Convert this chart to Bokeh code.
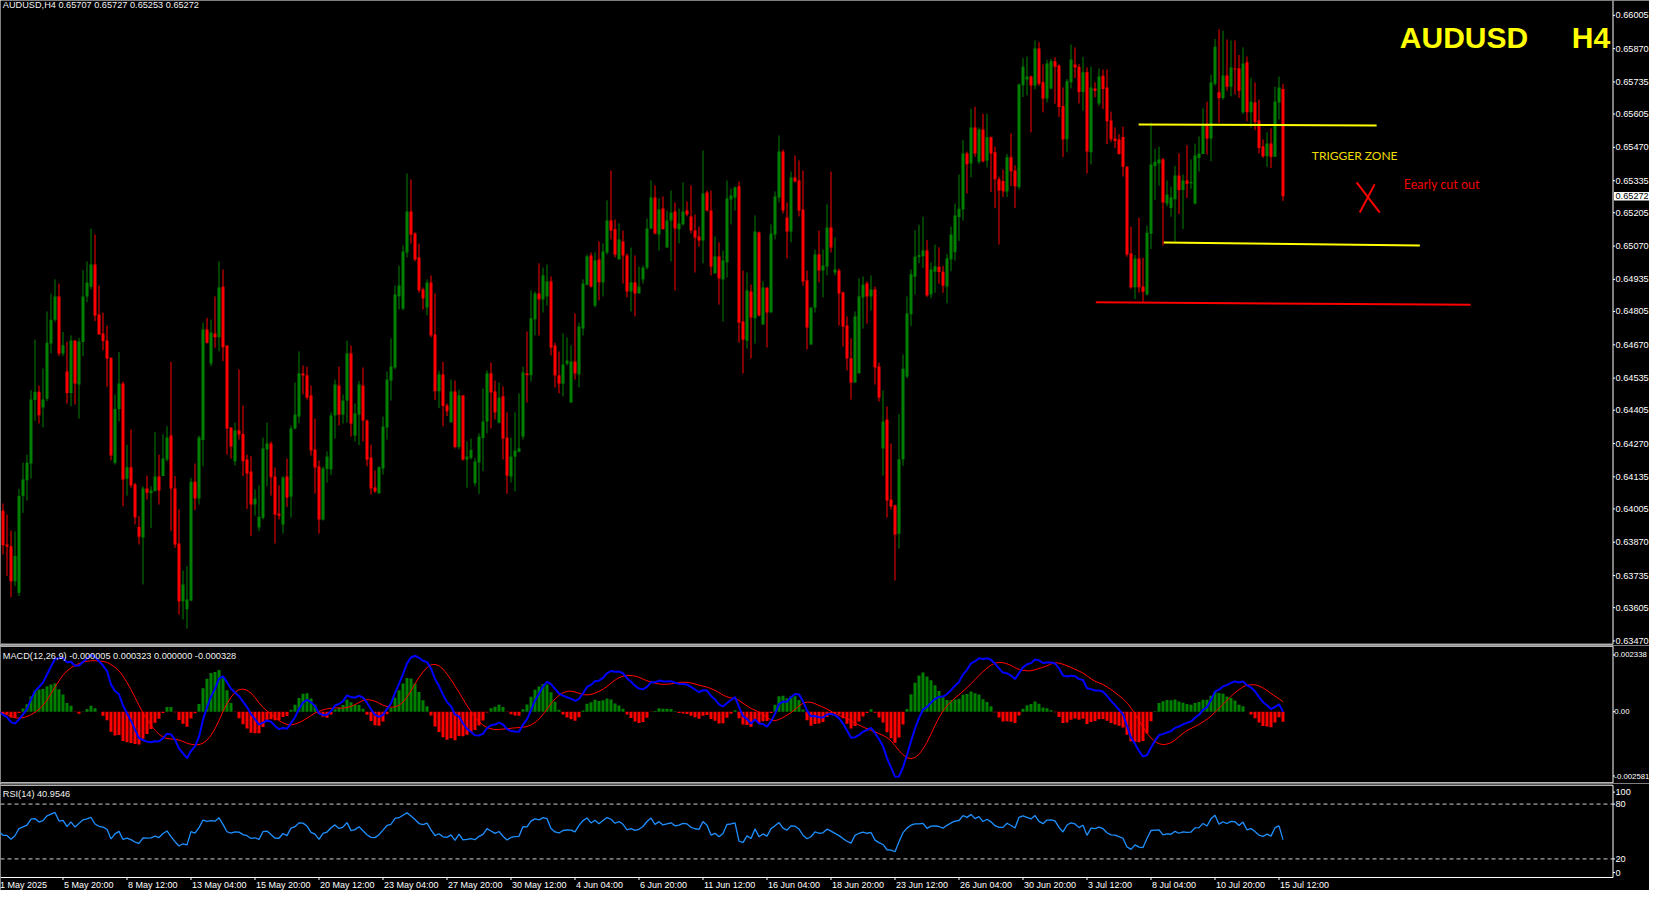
import numpy as np
from bokeh.plotting import figure
from bokeh.models import Range1d, Label, ColumnDataSource
from bokeh.layouts import column
from bokeh.embed import file_html
from bokeh.resources import INLINE
from bokeh.core.properties import value

# ---------------- data (AUDUSD H4, bar index -1 = 1 May 2025 00:00) ----------------
opens = [0.64124,
 0.63998,0.63861,0.63854,0.63712,0.63665,0.64057,0.64121,0.64189,0.64446,0.64480,
 0.64416,0.64451,0.64675,0.64772,0.64866,0.64635,0.64562,0.64475,0.64687,0.64509,
 0.64681,0.64866,0.64905,0.64995,0.64793,0.64716,0.64687,0.64618,0.64192,0.64410,
 0.64513,0.64127,0.64174,0.64104,0.63932,0.63889,0.64088,0.64068,0.64077,0.64136,
 0.64138,0.64205,0.64302,0.64088,0.63865,0.63631,0.63598,0.63634,0.64115,0.64047,
 0.64284,0.64732,0.64594,0.64716,0.64701,0.64905,0.64667,0.64335,0.64198,0.64323,
 0.64309,0.64205,0.64157,0.64023,0.63930,0.63969,0.64246,0.64270,0.64136,0.63986,
 0.63942,0.64136,0.64055,0.64331,0.64379,0.64554,0.64546,0.64465,0.64246,0.64177,
 0.63962,0.64167,0.64165,0.64384,0.64505,0.64387,0.64444,0.64635,0.64302,0.64387,
 0.64505,0.64363,0.64213,0.64092,0.64068,0.64169,0.64335,0.64525,0.64578,0.64866,
 0.64817,0.65044,0.65210,0.65121,0.65024,0.64894,0.64821,0.64922,0.64712,0.64482,
 0.64550,0.64424,0.64356,0.64481,0.64256,0.64465,0.64205,0.64212,0.64109,0.64193,
 0.64292,0.64359,0.64554,0.64481,0.64355,0.64461,0.64294,0.64136,0.64217,0.64237,
 0.64298,0.64554,0.64547,0.64773,0.64878,0.64854,0.64866,0.64927,0.64667,0.64546,
 0.64513,0.64594,0.64436,0.64602,0.64550,0.64736,0.64914,0.65032,0.64829,0.65016,
 0.64923,0.65044,0.65174,0.65138,0.65016,0.65089,0.65032,0.64886,0.64923,0.64878,
 0.64935,0.64983,0.65141,0.65267,0.65117,0.65222,0.65064,0.65174,0.65210,0.65138,
 0.65158,0.65214,0.65190,0.65133,0.65109,0.65093,0.65287,0.65214,0.64959,0.65028,
 0.64935,0.65004,0.65259,0.65267,0.65312,0.64764,0.64687,0.64886,0.64777,0.65125,
 0.64752,0.64902,0.64801,0.65117,0.65267,0.65453,0.65186,0.65129,0.65348,0.65336,
 0.65218,0.64931,0.64671,0.64821,0.65036,0.64971,0.64987,0.65145,0.64963,0.64971,
 0.64882,0.64748,0.64615,0.64517,0.64554,0.64862,0.64918,0.64866,0.64894,0.64582,
 0.64250,0.64367,0.64043,0.64019,0.63904,0.64206,0.64541,0.64794,0.64946,0.65026,
 0.65029,0.65052,0.64874,0.64966,0.64986,0.64966,0.64906,0.65016,0.65045,0.65188,
 0.65218,0.65445,0.65405,0.65551,0.65412,0.65542,0.65417,0.65511,0.65450,0.65341,
 0.65334,0.65291,0.65430,0.65376,0.65309,0.65722,0.65745,0.65757,0.65721,0.65871,
 0.65734,0.65668,0.65709,0.65819,0.65802,0.65637,0.65503,0.65734,0.65806,0.65797,
 0.65694,0.65774,0.65450,0.65709,0.65648,0.65760,0.65713,0.65579,0.65506,0.65502,
 0.65512,0.65391,0.65040,0.64903,0.65019,0.64906,0.64874,0.65120,0.65395,0.65405,
 0.65421,0.65243,0.65224,0.65260,0.65356,0.65297,0.65336,0.65325,0.65243,0.65427,
 0.65443,0.65560,0.65506,0.65728,0.65693,0.65670,0.65761,0.65716,0.65790,0.65790,
 0.65612,0.65815,0.65612,0.65652,0.65579,0.65474,0.65434,0.65486,0.65432,0.65652,
 0.65707]

highs = [0.64135,
 0.64027,0.63982,0.63917,0.63914,0.64086,0.64192,0.64225,0.64486,0.64691,0.64505,
 0.64574,0.64805,0.64877,0.64935,0.64918,0.64722,0.64683,0.64708,0.64687,0.64698,
 0.64972,0.65008,0.65141,0.65117,0.64910,0.64800,0.64748,0.64618,0.64469,0.64641,
 0.64521,0.64265,0.64327,0.64111,0.63976,0.64097,0.64140,0.64097,0.64317,0.64225,
 0.64307,0.64340,0.64601,0.64138,0.64003,0.63755,0.63773,0.64131,0.64189,0.64302,
 0.64760,0.64779,0.64772,0.64866,0.65008,0.64975,0.64667,0.64335,0.64355,0.64570,
 0.64424,0.64225,0.64219,0.64084,0.64100,0.64294,0.64355,0.64278,0.64173,0.64101,
 0.64138,0.64209,0.64343,0.64517,0.64643,0.64586,0.64581,0.64505,0.64371,0.64201,
 0.64177,0.64238,0.64396,0.64529,0.64582,0.64469,0.64687,0.64667,0.64432,0.64524,
 0.64578,0.64367,0.64265,0.64161,0.64177,0.64379,0.64562,0.64696,0.64910,0.64991,
 0.65072,0.65364,0.65340,0.65126,0.65080,0.64902,0.64935,0.64951,0.64878,0.64565,
 0.64601,0.64432,0.64529,0.64525,0.64488,0.64465,0.64278,0.64290,0.64212,0.64311,
 0.64493,0.64566,0.64598,0.64525,0.64517,0.64501,0.64396,0.64294,0.64396,0.64473,
 0.64582,0.64724,0.64890,0.64886,0.65000,0.64983,0.64995,0.64947,0.64679,0.64643,
 0.64716,0.64700,0.64667,0.64797,0.64760,0.64935,0.65036,0.65044,0.65044,0.65089,
 0.65081,0.65255,0.65376,0.65178,0.65162,0.65133,0.65040,0.65064,0.65032,0.64987,
 0.64991,0.65182,0.65336,0.65316,0.65263,0.65271,0.65214,0.65295,0.65247,0.65222,
 0.65328,0.65251,0.65316,0.65198,0.65149,0.65457,0.65295,0.65295,0.65109,0.65085,
 0.65052,0.65336,0.65303,0.65312,0.65332,0.64971,0.64963,0.64914,0.65194,0.65129,
 0.64927,0.64902,0.65158,0.65291,0.65518,0.65461,0.65247,0.65372,0.65437,0.65417,
 0.65376,0.64971,0.64821,0.65056,0.65133,0.65056,0.65239,0.65372,0.65105,0.64979,
 0.64886,0.64785,0.64696,0.64805,0.64939,0.64947,0.64927,0.64951,0.64906,0.64598,
 0.64485,0.64420,0.64270,0.64023,0.64389,0.64631,0.64866,0.64975,0.65134,0.65157,
 0.65189,0.65094,0.65004,0.65076,0.65065,0.64990,0.65038,0.65149,0.65242,0.65360,
 0.65499,0.65453,0.65626,0.65635,0.65551,0.65606,0.65606,0.65514,0.65473,0.65351,
 0.65380,0.65443,0.65527,0.65398,0.65728,0.65832,0.65838,0.65761,0.65903,0.65896,
 0.65806,0.65825,0.65828,0.65835,0.65807,0.65713,0.65747,0.65887,0.65875,0.65807,
 0.65836,0.65794,0.65797,0.65734,0.65790,0.65786,0.65786,0.65615,0.65551,0.65524,
 0.65554,0.65395,0.65149,0.65033,0.65185,0.65023,0.65153,0.65570,0.65464,0.65473,
 0.65427,0.65336,0.65311,0.65395,0.65446,0.65360,0.65479,0.65421,0.65485,0.65514,
 0.65628,0.65655,0.65764,0.65909,0.65948,0.65942,0.65907,0.65903,0.65903,0.65844,
 0.65875,0.65838,0.65752,0.65733,0.65663,0.65502,0.65531,0.65547,0.65716,0.65757,
 0.65727]

lows = [0.63962,
 0.63820,0.63733,0.63647,0.63692,0.63652,0.63989,0.64039,0.64128,0.64362,0.64351,
 0.64335,0.64442,0.64635,0.64763,0.64624,0.64624,0.64432,0.64421,0.64428,0.64371,
 0.64624,0.64843,0.64894,0.64766,0.64712,0.64648,0.64500,0.64202,0.64185,0.64360,
 0.64016,0.64059,0.64090,0.63942,0.63861,0.63699,0.64043,0.63928,0.64077,0.64023,
 0.64138,0.64198,0.63915,0.63847,0.63577,0.63557,0.63520,0.63631,0.64000,0.64023,
 0.64178,0.64675,0.64583,0.64658,0.64644,0.64604,0.64225,0.64209,0.64181,0.64286,
 0.64138,0.64005,0.63895,0.63978,0.63915,0.63962,0.64097,0.64059,0.63865,0.63962,
 0.63905,0.64013,0.63970,0.64327,0.64352,0.64469,0.64448,0.64221,0.64067,0.63905,
 0.63958,0.64112,0.64142,0.64290,0.64343,0.64351,0.64355,0.64298,0.64278,0.64263,
 0.64278,0.64178,0.64063,0.64070,0.64068,0.64144,0.64286,0.64444,0.64570,0.64813,
 0.64809,0.65024,0.65080,0.65008,0.64882,0.64813,0.64789,0.64700,0.64446,0.64413,
 0.64340,0.64381,0.64354,0.64250,0.64246,0.64201,0.64091,0.64205,0.64097,0.64066,
 0.64158,0.64311,0.64331,0.64367,0.64351,0.64205,0.64066,0.64112,0.64076,0.64234,
 0.64286,0.64436,0.64521,0.64708,0.64708,0.64801,0.64829,0.64627,0.64497,0.64473,
 0.64461,0.64586,0.64436,0.64529,0.64497,0.64708,0.64910,0.64902,0.64821,0.64850,
 0.64866,0.65036,0.65097,0.65024,0.65016,0.64918,0.64862,0.64805,0.64785,0.64878,
 0.64918,0.64975,0.65138,0.65117,0.65052,0.65138,0.65064,0.65008,0.64890,0.65081,
 0.65153,0.65190,0.65121,0.64963,0.65068,0.65000,0.65210,0.64951,0.64959,0.64833,
 0.64764,0.64943,0.65158,0.65214,0.64679,0.64554,0.64655,0.64615,0.64675,0.64785,
 0.64752,0.64659,0.64801,0.65097,0.65247,0.65202,0.65020,0.65085,0.65328,0.65190,
 0.64910,0.64651,0.64671,0.64801,0.64923,0.64862,0.64951,0.65044,0.64951,0.64748,
 0.64663,0.64566,0.64448,0.64517,0.64554,0.64736,0.64756,0.64809,0.64509,0.64440,
 0.64140,0.63970,0.64003,0.63715,0.63844,0.64180,0.64534,0.64746,0.64874,0.65000,
 0.64982,0.64864,0.64859,0.64881,0.64917,0.64881,0.64838,0.64968,0.65011,0.65091,
 0.65173,0.65283,0.65349,0.65432,0.65402,0.65409,0.65389,0.65289,0.65224,0.65076,
 0.65269,0.65269,0.65314,0.65224,0.65299,0.65674,0.65681,0.65531,0.65705,0.65719,
 0.65612,0.65652,0.65705,0.65647,0.65593,0.65431,0.65450,0.65709,0.65751,0.65648,
 0.65619,0.65364,0.65401,0.65673,0.65639,0.65625,0.65483,0.65492,0.65467,0.65441,
 0.65352,0.65027,0.64897,0.64855,0.64881,0.64845,0.64870,0.65058,0.65257,0.65315,
 0.65072,0.65231,0.65189,0.65088,0.65200,0.65139,0.65265,0.65302,0.65239,0.65372,
 0.65443,0.65441,0.65414,0.65720,0.65569,0.65663,0.65699,0.65677,0.65684,0.65670,
 0.65605,0.65576,0.65550,0.65540,0.65445,0.65427,0.65391,0.65386,0.65431,0.65583,
 0.65253]

closes = [0.63996,
 0.63858,0.63853,0.63712,0.63814,0.64057,0.64124,0.64192,0.64448,0.64480,0.64385,
 0.64448,0.64678,0.64772,0.64866,0.64635,0.64668,0.64475,0.64687,0.64513,0.64683,
 0.64866,0.64922,0.64995,0.64789,0.64712,0.64685,0.64614,0.64221,0.64410,0.64513,
 0.64124,0.64174,0.64101,0.63971,0.63892,0.64088,0.64070,0.64080,0.64136,0.64080,
 0.64209,0.64294,0.64088,0.63861,0.63631,0.63699,0.63638,0.64115,0.64047,0.64294,
 0.64732,0.64678,0.64720,0.64701,0.64902,0.64660,0.64331,0.64258,0.64323,0.64307,
 0.64198,0.64148,0.64023,0.64047,0.63973,0.64250,0.64270,0.64134,0.63982,0.63978,
 0.64132,0.64051,0.64331,0.64387,0.64554,0.64546,0.64456,0.64242,0.64173,0.63962,
 0.64169,0.64217,0.64384,0.64509,0.64387,0.64444,0.64635,0.64351,0.64392,0.64509,
 0.64363,0.64205,0.64088,0.64076,0.64174,0.64339,0.64529,0.64582,0.64874,0.64910,
 0.65048,0.65210,0.65117,0.65016,0.64890,0.64858,0.64922,0.64708,0.64482,0.64550,
 0.64422,0.64401,0.64481,0.64256,0.64465,0.64205,0.64217,0.64244,0.64197,0.64298,
 0.64359,0.64554,0.64477,0.64396,0.64456,0.64290,0.64140,0.64217,0.64241,0.64250,
 0.64558,0.64547,0.64777,0.64878,0.64854,0.64951,0.64927,0.64659,0.64546,0.64513,
 0.64590,0.64606,0.64602,0.64554,0.64744,0.64918,0.65028,0.64906,0.65012,0.64923,
 0.65048,0.65174,0.65133,0.65036,0.65097,0.65032,0.64886,0.64923,0.64878,0.64906,
 0.64983,0.65141,0.65267,0.65121,0.65218,0.65138,0.65174,0.65206,0.65141,0.65162,
 0.65210,0.65198,0.65133,0.65105,0.65093,0.65283,0.65214,0.64987,0.65028,0.64939,
 0.65012,0.65263,0.65275,0.65307,0.64760,0.64691,0.64890,0.64781,0.65129,0.64789,
 0.64902,0.64801,0.65121,0.65271,0.65453,0.65214,0.65129,0.65348,0.65332,0.65214,
 0.64927,0.64740,0.64821,0.65036,0.64971,0.64991,0.65145,0.65064,0.64975,0.64878,
 0.64744,0.64615,0.64517,0.64785,0.64866,0.64914,0.64866,0.64894,0.64578,0.64456,
 0.64359,0.64039,0.64015,0.63901,0.64206,0.64573,0.64797,0.64956,0.65027,0.65033,
 0.65052,0.64870,0.64975,0.64988,0.64965,0.64910,0.65020,0.65117,0.65194,0.65221,
 0.65445,0.65402,0.65551,0.65445,0.65542,0.65414,0.65511,0.65445,0.65341,0.65295,
 0.65292,0.65430,0.65373,0.65312,0.65725,0.65797,0.65757,0.65721,0.65871,0.65728,
 0.65668,0.65810,0.65819,0.65797,0.65634,0.65503,0.65738,0.65826,0.65794,0.65694,
 0.65774,0.65453,0.65713,0.65699,0.65757,0.65706,0.65576,0.65503,0.65496,0.65443,
 0.65391,0.65036,0.64903,0.65019,0.64903,0.64885,0.65124,0.65401,0.65412,0.65421,
 0.65247,0.65279,0.65268,0.65356,0.65297,0.65336,0.65323,0.65330,0.65437,0.65445,
 0.65560,0.65506,0.65733,0.65878,0.65670,0.65761,0.65716,0.65794,0.65786,0.65699,
 0.65810,0.65612,0.65655,0.65573,0.65467,0.65434,0.65486,0.65432,0.65655,0.65713,
 0.65272]

bar_index = list(range(-1, len(closes) - 1))

price_ticks = [0.66005, 0.65870, 0.65735, 0.65605, 0.65470, 0.65335, 0.65205, 0.65070,
               0.64935, 0.64805, 0.64670, 0.64535, 0.64405, 0.64270, 0.64135, 0.64005,
               0.63870, 0.63735, 0.63605, 0.63470]
price_tick_labels = ["%.5f" % t for t in price_ticks]

macd_ticks = [0.002066, 0.0, -0.002343]
macd_tick_labels = ["0.002338", "0.00", "-0.002581"]
rsi_ticks = [93.1, 80, 20, 5.1]
rsi_tick_labels = ["100", "80", "20", "0"]
rsi_levels = [80, 20]

date_ticks = [-1, 15, 31, 47, 63, 79, 95, 111, 127, 143, 159, 175, 191, 207, 223, 239,
              255, 271, 287, 303, 319]
date_labels = ["1 May 2025", "5 May 20:00", "8 May 12:00", "13 May 04:00", "15 May 20:00",
               "20 May 12:00", "23 May 04:00", "27 May 20:00", "30 May 12:00", "4 Jun 04:00",
               "6 Jun 20:00", "11 Jun 12:00", "16 Jun 04:00", "18 Jun 20:00", "23 Jun 12:00",
               "26 Jun 04:00", "30 Jun 20:00", "3 Jul 12:00", "8 Jul 04:00", "10 Jul 20:00",
               "15 Jul 12:00"]

# objects drawn on the chart (bar index, price)
yellow_x0 = [283.9, 290.2]; yellow_y0 = [0.65563, 0.65085]
yellow_x1 = [343.4, 354.2]; yellow_y1 = [0.65559, 0.65072]
red_x0 = [273.2]; red_y0 = [0.64842]; red_x1 = [366.9]; red_y1 = [0.64832]
cross_x0 = [338.4, 342.9]; cross_y0 = [0.65328, 0.65320]
cross_x1 = [344.2, 339.2]; cross_y1 = [0.65206, 0.65206]
last_price = 0.65272

# ---------------- indicators ----------------
c = np.array(closes)
o = np.array(opens)
hi = np.array(highs)
lo = np.array(lows)
x = np.array(bar_index, dtype=float)


def ema(arr, n):
    a = 2.0 / (n + 1)
    out = np.empty_like(arr)
    out[0] = arr[0]
    for i in range(1, len(arr)):
        out[i] = a * arr[i] + (1 - a) * out[i - 1]
    return out


def sma(arr, n):
    out = np.empty_like(arr)
    for i in range(len(arr)):
        out[i] = arr[max(0, i - n + 1):i + 1].mean()
    return out


macd = ema(c, 12) - ema(c, 26)
signal = sma(macd, 9)
hist = macd - signal

d = np.diff(c, prepend=c[0])
gain = np.clip(d, 0, None)
loss = np.clip(-d, 0, None)
ag = np.zeros_like(c)
al = np.zeros_like(c)
ag[0] = al[0] = np.abs(d[1:15]).mean() / 2
for i in range(1, len(c)):
    ag[i] = (ag[i - 1] * 13 + gain[i]) / 14
    al[i] = (al[i - 1] * 13 + loss[i]) / 14
rsi = 100 - 100 / (1 + ag / al)

# ---------------- layout / styling ----------------
FONT = "Liberation Sans"
FS = "9.2px"
FS_MACD = "7.8px"
FS_DATE = "9px"
BG = "#000000"
UP = "#008000"
DN = "#ff0000"
AX = "#ffffff"
TXT = "#f0f0f0"
W = 1649
PX = 4.0                      # pixels per bar
XR = Range1d(-0.625, -0.625 + W / PX)
AXIS_X = 402.5                # price-scale line
TICK_X = AXIS_X + 2.0 / PX
LABEL_X = AXIS_X + 2.5 / PX
LABEL_X_MACD = AXIS_X + 1.3 / PX
BOX_L = AXIS_X + 0.25


def make_fig(h, yr):
    f = figure(width=W, height=h, x_range=XR, y_range=yr, output_backend="svg",
               toolbar_location=None, x_axis_location=None, y_axis_location=None,
               min_border=0, min_border_left=0, min_border_right=0, min_border_top=0,
               min_border_bottom=0, background_fill_color=BG, border_fill_color=BG,
               outline_line_color=None)
    f.xgrid.visible = False
    f.ygrid.visible = False
    return f


def price_scale(f, y_top, y_bot, ticks, labels, lx=LABEL_X, fs=FS):
    n = len(ticks)
    f.segment(x0=[AXIS_X], y0=[y_top], x1=[AXIS_X], y1=[y_bot], color=AX, line_width=1)
    f.segment(x0=[AXIS_X] * n, y0=ticks, x1=[TICK_X] * n, y1=ticks, color=AX, line_width=1)
    f.text(x=[lx] * n, y=ticks, text=labels, text_align="left", text_baseline="middle",
           text_color=AX, text_font=value(FONT), text_font_size=value(fs))


def hline(f, y, dash="solid", color=AX):
    f.segment(x0=[XR.start], y0=[y], x1=[AXIS_X], y1=[y], color=color, line_width=1,
              line_dash=dash)


def header(f, y, txt):
    f.add_layout(Label(x=XR.start, y=y, x_offset=2.3, text=txt, text_baseline="middle",
                       text_color=TXT, text_font=FONT, text_font_size=FS))


# ---- main price panel (645 px, 1 px = 0.00004052) ----
P_TOP = 0.660651
P_PX = 0.00004052
p1 = make_fig(645, Range1d(P_TOP - 645 * P_PX, P_TOP))
p1_bottom = P_TOP - 643.7 * P_PX

up = c >= o
col = np.where(up, UP, DN)
src = ColumnDataSource(dict(x=x, h=hi, l=lo, top=np.maximum(o, c), bot=np.minimum(o, c), col=col))
p1.segment(x0="x", y0="l", x1="x", y1="h", color="col", line_width=1, source=src)
p1.vbar(x="x", width=0.75, top="top", bottom="bot", fill_color="col", line_color=None, source=src)

p1.segment(x0=yellow_x0, y0=yellow_y0, x1=yellow_x1, y1=yellow_y1, color="#ffff00", line_width=2)
p1.segment(x0=red_x0, y0=red_y0, x1=red_x1, y1=red_y1, color="#ff0000", line_width=2)
p1.segment(x0=cross_x0, y0=cross_y0, x1=cross_x1, y1=cross_y1, color="#ff0000", line_width=2)

hline(p1, p1_bottom)
price_scale(p1, P_TOP, p1_bottom, price_ticks, price_tick_labels)
p1.quad(left=[BOX_L], right=[XR.end], bottom=[last_price - 4.3 * P_PX],
        top=[last_price + 4.3 * P_PX], fill_color="#ffffff", line_color=None)
p1.text(x=[LABEL_X], y=[last_price], text=["%.5f" % last_price], text_align="left",
        text_baseline="middle", text_color="#000000", text_font=value(FONT),
        text_font_size=value(FS))

header(p1, P_TOP - 4.5 * P_PX, "AUDUSD,H4  0.65707 0.65727 0.65253 0.65272")
p1.add_layout(Label(x=349.2, y=0.65916, text="AUDUSD", text_baseline="middle",
                    text_color="#ffff00", text_font=FONT, text_font_size="30px",
                    text_font_style="bold"))
p1.add_layout(Label(x=392.2, y=0.65916, text="H4", text_baseline="middle",
                    text_color="#ffff00", text_font=FONT, text_font_size="30px",
                    text_font_style="bold"))
p1.add_layout(Label(x=327.2, y=0.65439, text="TRIGGER ZONE", text_baseline="middle",
                    text_color="#f0dc00", text_font="Lato", text_font_size="12px"))
p1.add_layout(Label(x=350.2, y=0.65320, text="Eearly cut out", text_baseline="middle",
                    text_color="#f00000", text_font="Lato", text_font_size="12.5px"))

# ---- MACD panel (138 px, zero at 66.2 px from top) ----
M_PX = 1 / 27447.0
M_TOP = 66.2 * M_PX
p2 = make_fig(138, Range1d(M_TOP - 138 * M_PX, M_TOP))
m_top_line = M_TOP - 0.7 * M_PX
m_bot_line = M_TOP - 137.3 * M_PX
hcol = np.where(hist >= 0, UP, DN)
p2.vbar(x=x, width=0.75, top=hist, bottom=0, fill_color=hcol, line_color=None)
p2.line(x, signal, color="#ff0000", line_width=1)
p2.line(x, macd, color="#0000ff", line_width=2)
hline(p2, m_top_line)
hline(p2, m_bot_line)
price_scale(p2, m_top_line, m_bot_line, macd_ticks, macd_tick_labels,
            lx=LABEL_X_MACD, fs=FS_MACD)
header(p2, M_TOP - 10 * M_PX, "MACD(12,26,9) -0.000005 0.000323 0.000000 -0.000328")

# ---- RSI panel (107 px, 0.914 px per RSI point) ----
R_PX = 1 / 0.914
R_TOP = 100 + 2.3 * R_PX
p3 = make_fig(107, Range1d(R_TOP - 107 * R_PX, R_TOP))
r_top_line = R_TOP - 1.7 * R_PX
r_bot_line = R_TOP - 94 * R_PX
for lv in rsi_levels:
    hline(p3, lv, dash="4 3", color="#d0d0d0")
p3.line(x, rsi, color="#1e90ff", line_width=1.3)
hline(p3, r_top_line)
hline(p3, r_bot_line)
price_scale(p3, r_top_line, r_bot_line, rsi_ticks, rsi_tick_labels)
header(p3, R_TOP - 10.7 * R_PX, "RSI(14) 40.9546")
nd = len(date_ticks)
p3.segment(x0=date_ticks, y0=[r_bot_line] * nd, x1=date_ticks,
           y1=[r_bot_line - 2.5 * R_PX] * nd, color=AX, line_width=1)
p3.text(x=date_ticks, y=[r_bot_line - 2.5 * R_PX] * nd, x_offset=1, text=date_labels,
        text_align="left", text_baseline="top", text_color=AX, text_font=value(FONT),
        text_font_size=value(FS_DATE))

layout = column(p1, p2, p3)
open("out.html", "w").write(file_html(layout, INLINE, "AUDUSD H4"))
